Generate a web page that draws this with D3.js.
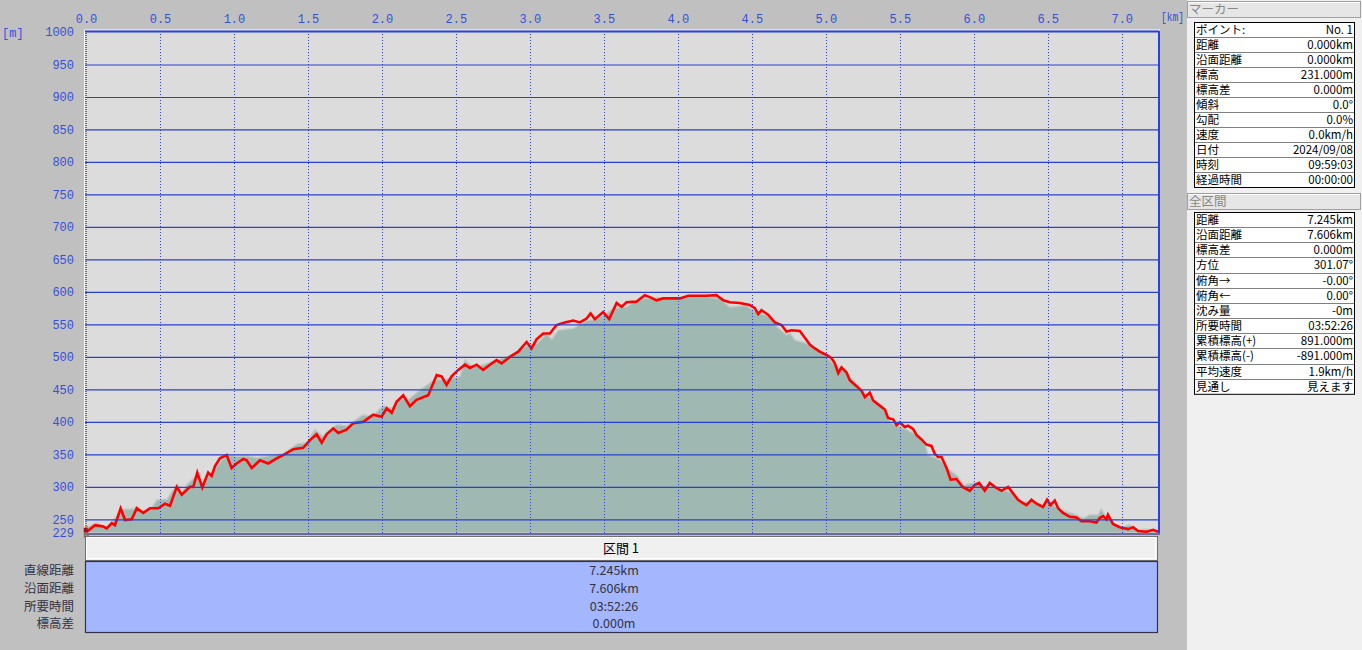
<!DOCTYPE html>
<html>
<head>
<meta charset="utf-8">
<script src="https://cdn.jsdelivr.net/npm/d3@7"></script>
<style>
  body { margin: 0; background: #c0c0c0; overflow: hidden; }
  text { font-family: "Noto Sans CJK JP", "DejaVu Sans", sans-serif; }
</style>
</head>
<body>
<div id="chart"></div>
<script>
// track (red line), km / m
const trackKm = [0.005, 0.061, 0.117, 0.140, 0.174, 0.196, 0.234, 0.264, 0.309, 0.343, 0.387, 0.432, 0.489, 0.534, 0.568,
  0.613, 0.647, 0.703, 0.725, 0.752, 0.786, 0.826, 0.849, 0.872, 0.905, 0.951, 0.984, 1.018, 1.063, 1.086, 1.120, 1.176,
  1.232, 1.289, 1.333, 1.401, 1.468, 1.514, 1.559, 1.593, 1.626, 1.671, 1.705, 1.761, 1.806, 1.874, 1.941, 1.998, 2.032,
  2.066, 2.099, 2.144, 2.189, 2.234, 2.313, 2.370, 2.403, 2.437, 2.471, 2.516, 2.561, 2.595, 2.640, 2.684, 2.730, 2.775,
  2.809, 2.865, 2.921, 2.978, 3.011, 3.045, 3.090, 3.135, 3.180, 3.236, 3.293, 3.338, 3.383, 3.410, 3.439, 3.495, 3.536,
  3.586, 3.620, 3.653, 3.720, 3.743, 3.777, 3.811, 3.856, 3.901, 3.968, 4.014, 4.070, 4.126, 4.194, 4.261, 4.307, 4.351,
  4.419, 4.486, 4.520, 4.543, 4.565, 4.610, 4.655, 4.701, 4.734, 4.768, 4.824, 4.870, 4.892, 4.926, 4.959, 5.005, 5.039,
  5.061, 5.084, 5.106, 5.140, 5.162, 5.208, 5.241, 5.264, 5.297, 5.320, 5.365, 5.399, 5.421, 5.455, 5.478, 5.500, 5.534,
  5.556, 5.590, 5.613, 5.647, 5.680, 5.714, 5.736, 5.759, 5.782, 5.816, 5.843, 5.883, 5.924, 5.973, 6.007, 6.036, 6.074,
  6.108, 6.142, 6.187, 6.232, 6.266, 6.299, 6.333, 6.356, 6.390, 6.424, 6.468, 6.495, 6.518, 6.547, 6.570, 6.603, 6.649,
  6.694, 6.728, 6.784, 6.829, 6.851, 6.874, 6.897, 6.907, 6.941, 6.986, 7.043, 7.077, 7.110, 7.167, 7.212, 7.245];
const trackElev = [231, 241, 239, 236, 244, 241, 267, 249, 250, 267, 260, 267, 267, 274, 271,
  300, 288, 300, 300, 322, 299, 322, 317, 332, 344, 349, 329, 336, 343, 341, 329, 341,
  336, 344, 349, 358, 360, 372, 381, 368, 381, 390, 383, 388, 398, 400, 411, 408, 421,
  414, 431, 441, 424, 434, 441, 472, 470, 457, 470, 480, 488, 483, 488, 480, 488, 495,
  490, 500, 508, 523, 513, 527, 536, 536, 549, 553, 556, 553, 559, 567, 558, 569, 558,
  583, 577, 584, 585, 589, 595, 592, 587, 590, 590, 590, 594, 594, 594, 595, 587, 584,
  583, 580, 575, 566, 572, 565, 553, 549, 539, 541, 540, 526, 519, 513, 508, 503, 498,
  490, 475, 484, 476, 464, 455, 448, 438, 445, 433, 425, 419, 406, 404, 395, 399, 392,
  394, 389, 380, 373, 365, 363, 351, 346, 346, 329, 311, 312, 300, 294, 303, 306, 294,
  306, 300, 294, 300, 290, 280, 275, 272, 280, 274, 269, 280, 272, 279, 267, 260, 254,
  253, 247, 247, 245, 252, 255, 250, 257, 243, 238, 235, 238, 232, 231, 234, 231];

// terrain (filled area), km / m
const groundKm = [0.000, 0.072, 0.140, 0.182, 0.243, 0.318, 0.345, 0.385, 0.432, 0.480, 0.547, 0.581, 0.622, 0.647,
  0.682, 0.736, 0.791, 0.838, 0.883, 0.953, 1.020, 1.088, 1.155, 1.257, 1.331, 1.426, 1.493, 1.547, 1.601, 1.635,
  1.696, 1.764, 1.872, 1.939, 2.007, 2.068, 2.122, 2.176, 2.257, 2.324, 2.358, 2.439, 2.527, 2.561, 2.615, 2.682,
  2.775, 2.865, 2.932, 2.978, 3.045, 3.113, 3.147, 3.191, 3.293, 3.383, 3.439, 3.518, 3.563, 3.653, 3.743, 3.856,
  3.966, 4.081, 4.194, 4.284, 4.351, 4.464, 4.507, 4.554, 4.622, 4.667, 4.734, 4.757, 4.791, 4.870, 4.892, 4.982,
  5.049, 5.117, 5.184, 5.275, 5.387, 5.444, 5.500, 5.545, 5.613, 5.669, 5.691, 5.770, 5.838, 5.894, 5.928, 5.995,
  6.086, 6.176, 6.266, 6.311, 6.401, 6.468, 6.514, 6.570, 6.626, 6.694, 6.739, 6.784, 6.840, 6.862, 6.885, 6.941,
  6.986, 7.054, 7.099, 7.167, 7.245];
const groundElev = [237, 245, 237, 248, 266, 266, 270, 262, 264, 280, 281, 293, 304, 292,
  304, 315, 306, 319, 333, 349, 347, 348, 345, 349, 351, 366, 368, 388, 378, 386,
  396, 394, 411, 409, 425, 421, 436, 434, 449, 460, 465, 466, 470, 495, 485, 488,
  495, 502, 510, 518, 520, 536, 527, 541, 544, 556, 558, 567, 575, 577, 590, 591,
  591, 592, 592, 590, 577, 579, 572, 567, 562, 547, 534, 537, 526, 521, 518, 506,
  490, 480, 465, 442, 421, 398, 393, 388, 380, 367, 349, 342, 326, 316, 303, 306,
  301, 298, 290, 277, 277, 272, 277, 267, 262, 257, 252, 257, 257, 266, 257, 244,
  237, 242, 234, 235, 231];

const yTicks = [1000, 950, 900, 850, 800, 750, 700, 650, 600, 550, 500, 450, 400, 350, 300, 250];
const yMin = 229;
const xTicks = [0, 0.5, 1, 1.5, 2, 2.5, 3, 3.5, 4, 4.5, 5, 5.5, 6, 6.5, 7];
const totalKm = 7.245;

const sectionTitle = "区間 1";
const sectionLabels = ["直線距離", "沿面距離", "所要時間", "標高差"];
const sectionValues = ["7.245km", "7.606km", "03:52:26", "0.000m"];

const markerLabels = ["ポイント:", "距離", "沿面距離", "標高", "標高差", "傾斜", "勾配", "速度", "日付", "時刻", "経過時間"];
const markerValues = ["No. 1", "0.000km", "0.000km", "231.000m", "0.000m", "0.0°", "0.0%", "0.0km/h", "2024/09/08", "09:59:03", "00:00:00"];
const totalLabels = ["距離", "沿面距離", "標高差", "方位", "俯角→", "俯角←", "沈み量", "所要時間", "累積標高(+)", "累積標高(-)", "平均速度", "見通し"];
const totalValues = ["7.245km", "7.606km", "0.000m", "301.07°", "-0.00°", "0.00°", "-0m", "03:52:26", "891.000m", "-891.000m", "1.9km/h", "見えます"];

const W = 1362, H = 650;
const plot = { left: 85, right: 1159, top: 31, bottom: 534 };
const axisFont = "'Liberation Mono', 'DejaVu Sans Mono', monospace";
const axisBlue = "#3550d8";

const svg = d3.select("#chart").append("svg")
  .attr("width", W).attr("height", H);

svg.append("rect").attr("width", W).attr("height", H).attr("fill", "#c0c0c0");

const x = d3.scaleLinear().domain([0, totalKm]).range([86, 1158]);
const y = d3.scaleLinear().domain([yMin, 1000]).range([533, 32]);

// plot background
svg.append("rect")
  .attr("x", plot.left).attr("y", plot.top)
  .attr("width", plot.right - plot.left).attr("height", plot.bottom - plot.top)
  .attr("fill", "#dcdcdc");

svg.append("clipPath").attr("id", "clip").append("rect")
  .attr("x", plot.left + 1).attr("y", plot.top)
  .attr("width", plot.right - plot.left - 2).attr("height", plot.bottom - plot.top - 1);

// terrain
const ground = groundKm.map((k, i) => ({ k: k, v: groundElev[i] }));
const area = d3.area().x(d => x(d.k)).y0(y(yMin)).y1(d => y(d.v));
const g = svg.append("g").attr("clip-path", "url(#clip)");
g.append("path").datum(ground)
  .attr("d", area)
  .attr("fill", "#9fb8b1")
  .attr("stroke", "#c3cbc7")
  .attr("stroke-width", 1.5);

// grid
svg.append("g").selectAll("line")
  .data(yTicks.filter(v => v < 1000))
  .enter().append("line")
  .attr("x1", plot.left).attr("x2", plot.right)
  .attr("y1", d => y(d) + 0.5).attr("y2", d => y(d) + 0.5)
  .attr("stroke", "#2a40d0").attr("stroke-width", 1.2);

svg.append("g").selectAll("line")
  .data(xTicks.filter(v => v > 0))
  .enter().append("line")
  .attr("x1", d => Math.round(x(d)) + 0.5).attr("x2", d => Math.round(x(d)) + 0.5)
  .attr("y1", plot.top).attr("y2", plot.bottom)
  .attr("stroke", "#2a40e0").attr("stroke-width", 1)
  .attr("stroke-dasharray", "1,2");

// track line
const track = trackKm.map((k, i) => ({ k: k, v: trackElev[i] }));
g.append("path").datum(track)
  .attr("d", d3.line().x(d => x(d.k)).y(d => y(d.v)))
  .attr("fill", "none")
  .attr("stroke", "#ff0000")
  .attr("stroke-width", 2.6)
  .attr("stroke-linejoin", "miter");

// plot frame
svg.append("line").attr("x1", plot.left - 1).attr("x2", plot.right + 1)
  .attr("y1", plot.top - 1).attr("y2", plot.top - 1).attr("stroke", "#ffffff").attr("stroke-width", 1);
svg.append("line").attr("x1", plot.left).attr("x2", plot.right)
  .attr("y1", plot.top + 0.5).attr("y2", plot.top + 0.5).attr("stroke", "#2a40e0").attr("stroke-width", 2);
svg.append("line").attr("x1", plot.right).attr("x2", plot.right)
  .attr("y1", plot.top).attr("y2", plot.bottom + 1).attr("stroke", "#2a40e0").attr("stroke-width", 2);
svg.append("line").attr("x1", plot.left - 0.5).attr("x2", plot.left - 0.5)
  .attr("y1", plot.top).attr("y2", plot.bottom).attr("stroke", "#ffffff").attr("stroke-width", 1);
svg.append("line").attr("x1", plot.left + 1).attr("x2", plot.left + 1)
  .attr("y1", plot.top).attr("y2", plot.bottom)
  .attr("stroke", "#2a40e0").attr("stroke-width", 1.5).attr("stroke-dasharray", "1,1");
svg.append("line").attr("x1", plot.left).attr("x2", plot.right + 1)
  .attr("y1", plot.bottom).attr("y2", plot.bottom).attr("stroke", "#6a6aa0").attr("stroke-width", 2);

// axes
const yAxis = svg.append("g")
  .attr("transform", "translate(75,0)")
  .call(d3.axisLeft(y).tickValues(yTicks.concat([yMin])).tickSize(0).tickPadding(1).tickFormat(d3.format("d")));
yAxis.select(".domain").remove();
yAxis.selectAll("text").attr("fill", axisBlue).style("font-size", "12px").style("font-family", axisFont);

const xAxis = svg.append("g")
  .attr("transform", "translate(0,23)")
  .call(d3.axisTop(x).tickValues(xTicks).tickSize(0).tickPadding(0).tickFormat(d3.format(".1f")));
xAxis.select(".domain").remove();
xAxis.selectAll("text").attr("fill", axisBlue).style("font-size", "12px").style("font-family", axisFont);

svg.append("text").attr("x", 2).attr("y", 37).text("[m]")
  .attr("fill", axisBlue).style("font-size", "12px").style("font-family", axisFont);
svg.append("text").attr("x", 1161).attr("y", 21).text("[km]")
  .attr("fill", axisBlue).style("font-size", "12px").style("font-family", axisFont)
  .attr("textLength", 23).attr("lengthAdjust", "spacingAndGlyphs");

// hiker icon at the start point
const hx = x(trackKm[0]) - 4, hy = y(trackElev[0]);
const hiker = svg.append("g").attr("transform", "translate(" + hx + "," + (hy - 6) + ")");
hiker.append("rect").attr("x", 1).attr("y", 2).attr("width", 4).attr("height", 5).attr("fill", "#a01020");
hiker.append("rect").attr("x", 2).attr("y", 0).attr("width", 3).attr("height", 2).attr("fill", "#e08040");
hiker.append("rect").attr("x", 1).attr("y", 7).attr("width", 2).attr("height", 5).attr("fill", "#8a7050");
hiker.append("rect").attr("x", 4).attr("y", 7).attr("width", 2).attr("height", 5).attr("fill", "#8a7050");

// section header + values
svg.append("rect").attr("x", 85.5).attr("y", 536.5).attr("width", 1072).attr("height", 24)
  .attr("fill", "#f0f0f0").attr("stroke", "#707070").attr("stroke-width", 1);
svg.append("rect").attr("x", 86.5).attr("y", 537.5).attr("width", 1069).attr("height", 21)
  .attr("fill", "none").attr("stroke", "#ffffff").attr("stroke-width", 1);
svg.append("text").attr("x", 621).attr("y", 553).attr("text-anchor", "middle")
  .text(sectionTitle).attr("fill", "#000").style("font-size", "13px");

svg.append("rect").attr("x", 85.5).attr("y", 561.5).attr("width", 1072).attr("height", 71)
  .attr("fill", "#a4b6fe").attr("stroke", "#33334a").attr("stroke-width", 1.2);

svg.append("g").selectAll("text").data(sectionValues).enter().append("text")
  .attr("x", 614).attr("y", (d, i) => 575 + i * 17.8)
  .attr("text-anchor", "middle").attr("fill", "#333344")
  .style("font-size", "12.5px").text(d => d);

svg.append("g").selectAll("text").data(sectionLabels).enter().append("text")
  .attr("x", 74).attr("y", (d, i) => 575 + i * 17.8)
  .attr("text-anchor", "end").attr("fill", "#333344")
  .style("font-size", "12.5px").text(d => d);

// right side panel
svg.append("rect").attr("x", 1187).attr("y", 0).attr("width", W - 1187).attr("height", H).attr("fill", "#f0f0f0");

function header(top, label) {
  svg.append("rect").attr("x", 1187.5).attr("y", top + 0.5).attr("width", 173).attr("height", 16)
    .attr("fill", "#e6e6e6").attr("stroke", "#a0a0a0");
  svg.append("line").attr("x1", 1188).attr("x2", 1360).attr("y1", top + 1.5).attr("y2", top + 1.5).attr("stroke", "#fff");
  svg.append("text").attr("x", 1189).attr("y", top + 13).text(label)
    .attr("fill", "#888").style("font-size", "12.5px");
}

function table(top, rowH, labels, values) {
  const tg = svg.append("g");
  tg.append("rect").attr("x", 1194.5).attr("y", top + 0.5).attr("width", 160).attr("height", rowH * labels.length)
    .attr("fill", "#ffffff").attr("stroke", "#000").attr("stroke-width", 1);
  tg.selectAll("line").data(labels.slice(1)).enter().append("line")
    .attr("x1", 1195).attr("x2", 1354)
    .attr("y1", (d, i) => Math.round(top + (i + 1) * rowH) + 0.5)
    .attr("y2", (d, i) => Math.round(top + (i + 1) * rowH) + 0.5)
    .attr("stroke", "#808080").attr("stroke-width", 1);
  tg.selectAll("text.l").data(labels).enter().append("text")
    .attr("class", "l")
    .attr("x", 1196).attr("y", (d, i) => top + i * rowH + 12)
    .attr("fill", "#000").style("font-size", "11.5px").text(d => d);
  tg.selectAll("text.v").data(values).enter().append("text")
    .attr("class", "v")
    .attr("x", 1353).attr("y", (d, i) => top + i * rowH + 12)
    .attr("text-anchor", "end").attr("fill", "#000").style("font-size", "11.5px").text(d => d);
}

header(1, "マーカー");
table(22, 15, markerLabels, markerValues);
header(193, "全区間");
table(212, 15.15, totalLabels, totalValues);
</script>
</body>
</html>
